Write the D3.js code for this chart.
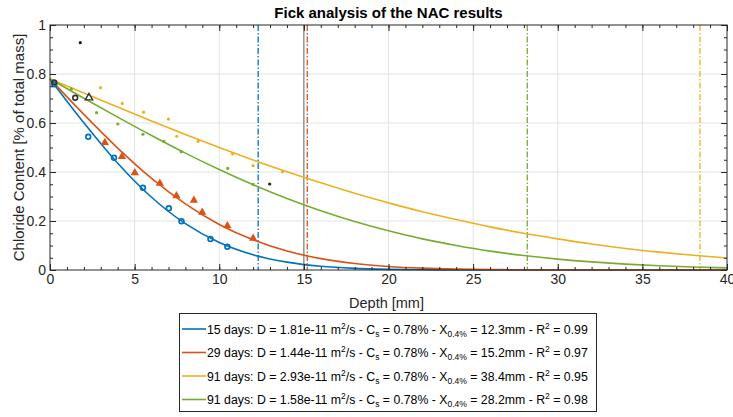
<!DOCTYPE html>
<html>
<head>
<meta charset="utf-8">
<script src="https://cdn.jsdelivr.net/npm/d3@7"></script>
<style>
  body { margin: 0; background: #fff; }
  svg { font-family: "Liberation Sans", Arial, Helvetica, sans-serif; }
</style>
</head>
<body>
<svg id="chart" width="733" height="417"></svg>
<script>
// fitted curves, every 2 mm
const depthGrid = [0, 2, 4, 6, 8, 10, 12, 14, 16, 18, 20, 22, 24, 26, 28, 30, 32, 34, 36, 38, 40];
const fit15 = [0.78, 0.601, 0.436, 0.297, 0.189, 0.112, 0.062, 0.032, 0.015, 0.0066, 0.0027, 0.001, 0.0004, 0.0001, 0, 0, 0, 0, 0, 0, 0];
const fit29 = [0.78, 0.635, 0.4975, 0.374, 0.270, 0.186, 0.123, 0.0775, 0.0465, 0.0265, 0.0145, 0.0075, 0.0037, 0.0018, 0.0008, 0.0003, 0.0001, 0, 0, 0, 0];
const fit91a = [0.78, 0.722, 0.665, 0.608, 0.553, 0.500, 0.449, 0.401, 0.356, 0.313, 0.274, 0.238, 0.206, 0.176, 0.150, 0.127, 0.106, 0.088, 0.073, 0.060, 0.049];
const fit91b = [0.78, 0.701, 0.624, 0.549, 0.477, 0.410, 0.348, 0.292, 0.242, 0.198, 0.160, 0.127, 0.100, 0.077, 0.059, 0.0445, 0.033, 0.024, 0.0175, 0.0124, 0.0087];

// measured points
const pts15 = [[0.25, 0.758], [2.26, 0.544], [3.78, 0.458], [5.49, 0.336], [7.02, 0.252], [7.77, 0.199], [9.48, 0.127], [10.48, 0.095]];
const pts29 = [[3.24, 0.520], [4.25, 0.463], [5.01, 0.397], [6.49, 0.354], [7.47, 0.303], [8.50, 0.284], [8.99, 0.235], [10.48, 0.180], [12.0, 0.129]];
const pts91a = [[2.99, 0.744], [4.27, 0.680], [5.53, 0.644], [7.0, 0.616], [7.49, 0.546], [8.75, 0.525], [10.78, 0.473], [12.0, 0.426], [13.73, 0.401]];
const pts91b = [[1.26, 0.739], [2.75, 0.642], [4.01, 0.596], [5.49, 0.554], [6.73, 0.525], [7.75, 0.483], [10.5, 0.415], [12.0, 0.350]];
const ptsBlackDot = [[1.79, 0.928], [12.98, 0.351]];
const ptsBlackCircle = [[1.49, 0.703], [0.25, 0.766]];
const ptsBlackTri = [[2.3, 0.703]];

// X_0.4% penetration depths
const xCrit = [12.3, 15.2, 38.4, 28.2];
const seriesColors = ["#0072BD", "#D95319", "#EDB120", "#77AC30"];
const legendDays = ["15", "29", "91", "91"];
const legendD = ["1.81e-11", "1.44e-11", "2.93e-11", "1.58e-11"];
const legendX = ["12.3", "15.2", "38.4", "28.2"];
const legendR2 = ["0.99", "0.97", "0.95", "0.98"];
const xTicks = [0, 5, 10, 15, 20, 25, 30, 35, 40];
const yTicks = [0, 0.2, 0.4, 0.6, 0.8, 1];

const svg = d3.select("#chart");
const pL = 50, pR = 727, pT = 25, pB = 270;

const x = d3.scaleLinear().domain([0, 40]).range([pL, pR]);
const y = d3.scaleLinear().domain([0, 1]).range([pB, pT]);

// grid
const grid = svg.append("g");
grid.selectAll("line.gx").data(xTicks.slice(1, -1)).enter().append("line")
  .attr("x1", d => x(d)).attr("x2", d => x(d)).attr("y1", pT).attr("y2", pB)
  .attr("stroke", "#e3e3e3").attr("stroke-width", 1);
grid.selectAll("line.gy").data(yTicks.slice(1, -1)).enter().append("line")
  .attr("x1", pL).attr("x2", pR).attr("y1", d => y(d)).attr("y2", d => y(d))
  .attr("stroke", "#e3e3e3").attr("stroke-width", 1);

// darker line at 15 mm
svg.append("line")
  .attr("x1", x(15)).attr("x2", x(15)).attr("y1", pT).attr("y2", pB)
  .attr("stroke", "#6a6a6a").attr("stroke-width", 1);

// vertical penetration-depth lines
svg.append("g").selectAll("line").data(xCrit).enter().append("line")
  .attr("x1", d => x(d)).attr("x2", d => x(d)).attr("y1", pT).attr("y2", pB)
  .attr("stroke", (d, i) => seriesColors[i])
  .attr("stroke-width", 1.3)
  .attr("stroke-dasharray", "6,2,1.5,2");

// curves
const line = d3.line()
  .x((d, i) => x(depthGrid[i]))
  .y(d => y(d))
  .curve(d3.curveMonotoneX);

svg.append("g").selectAll("path").data([fit15, fit29, fit91a, fit91b]).enter().append("path")
  .attr("d", line)
  .attr("fill", "none")
  .attr("stroke", (d, i) => seriesColors[i])
  .attr("stroke-width", 1.6);

// markers
const tri = d3.symbol().type(d3.symbolTriangle);

svg.append("g").selectAll("circle").data(pts15).enter().append("circle")
  .attr("cx", d => x(d[0])).attr("cy", d => y(d[1])).attr("r", 2.4)
  .attr("fill", "none").attr("stroke", seriesColors[0]).attr("stroke-width", 1.7);

svg.append("g").selectAll("path").data(pts29).enter().append("path")
  .attr("d", tri.size(30))
  .attr("transform", d => `translate(${x(d[0])},${y(d[1])})`)
  .attr("fill", seriesColors[1]);

svg.append("g").selectAll("circle").data(pts91a).enter().append("circle")
  .attr("cx", d => x(d[0])).attr("cy", d => y(d[1])).attr("r", 1.6)
  .attr("fill", seriesColors[2]);

svg.append("g").selectAll("circle").data(pts91b).enter().append("circle")
  .attr("cx", d => x(d[0])).attr("cy", d => y(d[1])).attr("r", 1.6)
  .attr("fill", seriesColors[3]);

svg.append("g").selectAll("circle").data(ptsBlackDot).enter().append("circle")
  .attr("cx", d => x(d[0])).attr("cy", d => y(d[1])).attr("r", 1.6)
  .attr("fill", "#222");

svg.append("g").selectAll("circle").data(ptsBlackCircle).enter().append("circle")
  .attr("cx", d => x(d[0])).attr("cy", d => y(d[1])).attr("r", 2.4)
  .attr("fill", "none").attr("stroke", "#333").attr("stroke-width", 1.6);

svg.append("g").selectAll("path").data(ptsBlackTri).enter().append("path")
  .attr("d", d3.symbol().type(d3.symbolTriangle).size(24))
  .attr("transform", d => `translate(${x(d[0])},${y(d[1])})`)
  .attr("fill", "none").attr("stroke", "#333").attr("stroke-width", 1.4);

// axes on all four sides, ticks inside
const axisColor = "#262626";
function styleAxis(g) {
  g.select(".domain").remove();
  g.selectAll("line").attr("stroke", axisColor);
  g.selectAll("text").attr("fill", "#262626").style("font-size", "14px");
}

const xMinor = d3.range(0, 41, 1);
const yMinor = d3.range(0, 1.0001, 0.05);

svg.append("g").attr("transform", `translate(0,${pB})`)
  .call(d3.axisBottom(x).tickValues(xMinor).tickSize(-3).tickFormat(""))
  .call(styleAxis);
svg.append("g").attr("transform", `translate(0,${pB})`)
  .call(d3.axisBottom(x).tickValues(xTicks).tickSize(-6).tickPadding(4).tickFormat(d3.format("d")))
  .call(styleAxis);
svg.append("g").attr("transform", `translate(0,${pT})`)
  .call(d3.axisTop(x).tickValues(xMinor).tickSize(-3).tickFormat(""))
  .call(styleAxis);
svg.append("g").attr("transform", `translate(0,${pT})`)
  .call(d3.axisTop(x).tickValues(xTicks).tickSize(-6).tickFormat(""))
  .call(styleAxis);

svg.append("g").attr("transform", `translate(${pL},0)`)
  .call(d3.axisLeft(y).tickValues(yMinor).tickSize(-3).tickFormat(""))
  .call(styleAxis);
svg.append("g").attr("transform", `translate(${pL},0)`)
  .call(d3.axisLeft(y).tickValues(yTicks).tickSize(-6).tickPadding(4).tickFormat(d => d3.format("")(d)))
  .call(styleAxis);
svg.append("g").attr("transform", `translate(${pR},0)`)
  .call(d3.axisRight(y).tickValues(yMinor).tickSize(-3).tickFormat(""))
  .call(styleAxis);
svg.append("g").attr("transform", `translate(${pR},0)`)
  .call(d3.axisRight(y).tickValues(yTicks).tickSize(-6).tickFormat(""))
  .call(styleAxis);

// box
svg.append("rect")
  .attr("x", pL).attr("y", pT).attr("width", pR - pL).attr("height", pB - pT)
  .attr("fill", "none").attr("stroke", axisColor).attr("stroke-width", 1);

// labels
svg.append("text")
  .attr("x", (pL + pR) / 2).attr("y", 18)
  .attr("text-anchor", "middle")
  .style("font-size", "15px").style("font-weight", "bold").attr("fill", "#000")
  .text("Fick analysis of the NAC results");

svg.append("text")
  .attr("x", (pL + pR) / 2 - 2).attr("y", 308)
  .attr("text-anchor", "middle")
  .style("font-size", "14.5px").attr("fill", "#262626")
  .text("Depth [mm]");

svg.append("text")
  .attr("transform", `translate(24,${(pT + pB) / 2}) rotate(-90)`)
  .attr("text-anchor", "middle")
  .style("font-size", "15px").attr("fill", "#262626")
  .text("Chloride Content [% of total mass]");

// legend
const lg = svg.append("g");
lg.append("rect")
  .attr("x", 179.5).attr("y", 313.5).attr("width", 417).attr("height", 98)
  .attr("fill", "#fff").attr("stroke", "#262626").attr("stroke-width", 1);

const rowY = [329, 352.5, 376, 399.5];
legendDays.forEach((days, i) => {
  lg.append("line")
    .attr("x1", 182).attr("x2", 206).attr("y1", rowY[i]).attr("y2", rowY[i])
    .attr("stroke", seriesColors[i]).attr("stroke-width", 1.6);
  const t = lg.append("text")
    .attr("x", 207).attr("y", rowY[i] + 4.5)
    .style("font-size", "12.3px").attr("fill", "#000");
  t.append("tspan").text(`${days} days: D = ${legendD[i]} m`);
  t.append("tspan").attr("dy", -5).style("font-size", "8.5px").text("2");
  t.append("tspan").attr("dy", 5).text("/s - C");
  t.append("tspan").attr("dy", 3).style("font-size", "8.5px").text("s");
  t.append("tspan").attr("dy", -3).text(" = 0.78% - X");
  t.append("tspan").attr("dy", 3).style("font-size", "8.5px").text("0.4%");
  t.append("tspan").attr("dy", -3).text(` = ${legendX[i]}mm - R`);
  t.append("tspan").attr("dy", -5).style("font-size", "8.5px").text("2");
  t.append("tspan").attr("dy", 5).text(` = ${legendR2[i]}`);
});
</script>
</body>
</html>
